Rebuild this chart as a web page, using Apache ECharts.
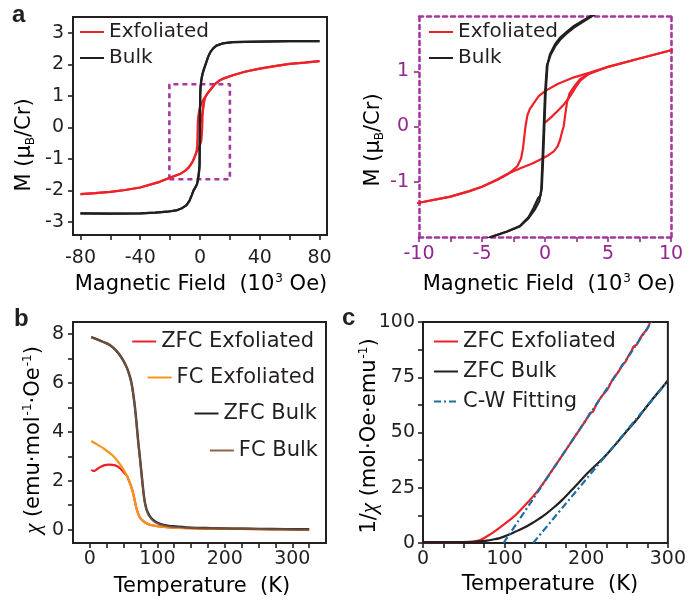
<!DOCTYPE html>
<html>
<head>
<meta charset="utf-8">
<script src="https://cdn.jsdelivr.net/npm/echarts@6/dist/echarts.min.js"></script>
<style>
  html, body { margin: 0; padding: 0; background: #fff; }
  #chart { width: 689px; height: 600px; }
</style>
</head>
<body>
<div id="chart"></div>
<script>
// ---------- (a) M–H loops, field in 10^3 Oe, M in μB/Cr ----------
const exfoliatedDown = [[80,2.11],[70,2.06],[60,2.02],[50,1.95],[40,1.87],[30,1.77],[22,1.66],[16,1.56],[13,1.49],[10,1.38],[7.5,1.23],[5,1.08],[3.5,0.97],[2.3,0.89],[1,0.77],[0,0.64],[-0.5,0.55],[-0.9,0.42],[-1.2,0.32],[-1.4,0.2],[-1.55,0.0],[-1.65,-0.2],[-1.75,-0.4],[-1.9,-0.58],[-2.2,-0.72],[-2.6,-0.8],[-3.0,-0.87],[-3.8,-0.97],[-5,-1.09],[-6,-1.17],[-7.5,-1.27],[-10,-1.38],[-13,-1.47],[-18,-1.56],[-27,-1.73],[-40,-1.91],[-50,-1.99],[-60,-2.05],[-70,-2.09],[-80,-2.12]];
const exfoliatedUp = [[-80,-2.12],[-70,-2.09],[-60,-2.05],[-50,-1.99],[-40,-1.91],[-27,-1.73],[-18,-1.56],[-13,-1.47],[-10,-1.38],[-7.5,-1.27],[-6,-1.17],[-5,-1.09],[-3.8,-0.96],[-3,-0.86],[-2,-0.76],[-1,-0.67],[-0.4,-0.6],[0.2,-0.53],[0.7,-0.45],[1.0,-0.36],[1.2,-0.24],[1.35,-0.1],[1.48,0.0],[1.6,0.2],[1.74,0.43],[1.95,0.6],[2.27,0.71],[2.8,0.86],[3.5,0.95],[5,1.08],[7.5,1.23],[10,1.38],[13,1.49],[16,1.56],[22,1.66],[30,1.77],[40,1.87],[50,1.95],[60,2.02],[70,2.06],[80,2.11]];
const exfoliatedVirgin = [[0,0.07],[0.5,0.17],[1,0.28],[1.5,0.4],[2,0.55],[2.4,0.7],[2.8,0.83],[3.3,0.92]];
const bulkUp = [[-80,-2.73],[-60,-2.74],[-40,-2.73],[-30,-2.71],[-22,-2.68],[-16,-2.64],[-12.5,-2.58],[-9,-2.47],[-7,-2.33],[-5.5,-2.15],[-4.3,-2.0],[-3,-1.9],[-2,-1.81],[-1.3,-1.66],[-0.8,-1.5],[-0.45,-1.35],[-0.3,-1.15],[-0.2,-0.6],[-0.1,0.0],[0.0,0.6],[0.15,1.1],[0.45,1.3],[0.8,1.45],[1.2,1.57],[1.7,1.68],[2.3,1.79],[3.2,1.92],[4.1,2.05],[5.5,2.25],[7,2.4],[9,2.52],[11,2.6],[15,2.67],[22,2.71],[30,2.72],[40,2.73],[60,2.74],[80,2.74]];
const bulkDown = [[80,2.74],[60,2.74],[40,2.73],[30,2.72],[22,2.71],[15,2.67],[11,2.6],[9,2.52],[7,2.4],[5.5,2.25],[4.1,2.06],[3.2,1.94],[2.3,1.82],[1.7,1.71],[1.2,1.61],[0.8,1.49],[0.4,1.31],[0.2,1.12],[0.05,0.6],[-0.05,0.0],[-0.15,-0.6],[-0.25,-1.1],[-0.35,-1.25],[-0.55,-1.3],[-0.9,-1.47],[-1.3,-1.64],[-2,-1.8],[-3,-1.9],[-4.3,-2.0],[-5.5,-2.15],[-7,-2.33],[-9,-2.47],[-12.5,-2.58],[-16,-2.64],[-22,-2.68],[-30,-2.71],[-40,-2.73],[-60,-2.74],[-80,-2.73]];
// enlarged region shown on the right-hand panel
const zoomRegion = [[-20.5,-1.65],[20,-1.65],[20,1.37],[-20.5,1.37],[-20.5,-1.65]];

const fieldTicks = [-80,-60,-40,-20,0,20,40,60,80];
const fieldLabels = [-80,-40,0,40,80];
const momentTicks = [-3,-2,-1,0,1,2,3];
const zoomFieldTicks = [-10,-7.5,-5,-2.5,0,2.5,5,7.5,10];
const zoomFieldLabels = [-10,-5,0,5,10];
const zoomMomentTicks = [-1,0,1];

// ---------- (b) χ(T), emu·mol^-1·Oe^-1 ----------
const zfcExfoliated = [[2,2.45],[5,2.4],[8,2.42],[12,2.5],[17,2.58],[22,2.64],[28,2.66],[34,2.65],[40,2.6],[45,2.5],[50,2.35],[55,2.2],[58,2.0],[61,1.78],[64,1.5],[66,1.25],[68,1.0],[70,0.78],[73,0.56],[77,0.4],[82,0.29],[89,0.2],[100,0.14],[114,0.1],[130,0.07],[163,0.04],[200,0.03],[250,0.02],[300,0.01],[325,0.01]];
const fcExfoliated = [[2,3.63],[10,3.5],[20,3.33],[30,3.12],[35,3.0],[40,2.84],[45,2.66],[50,2.45],[55,2.2],[58,2.0],[61,1.78],[64,1.5],[66,1.25],[68,1.0],[70,0.78],[73,0.56],[77,0.4],[82,0.29],[89,0.2],[100,0.14],[114,0.1],[130,0.07],[163,0.04],[200,0.03],[250,0.02],[300,0.01],[325,0.01]];
const zfcBulk = [[2,7.88],[10,7.8],[20,7.68],[30,7.55],[40,7.3],[45,7.12],[50,6.9],[55,6.62],[60,6.2],[63,5.8],[66,5.2],[68,4.7],[70,4.1],[72,3.5],[74,3.0],[76,2.45],[78,1.9],[80,1.4],[82,1.05],[85,0.75],[89,0.54],[95,0.36],[104,0.23],[115,0.16],[130,0.12],[150,0.08],[180,0.06],[212,0.04],[250,0.03],[290,0.02],[325,0.01]];
const fcBulk = [[2,7.86],[10,7.8],[20,7.68],[30,7.55],[40,7.3],[45,7.12],[50,6.9],[55,6.6],[60,6.18],[63,5.78],[66,5.18],[68,4.68],[70,4.08],[72,3.48],[74,2.98],[76,2.42],[78,1.88],[80,1.38],[82,1.02],[85,0.72],[89,0.5],[95,0.33],[104,0.21],[115,0.14],[130,0.1],[150,0.07],[180,0.05],[212,0.03],[250,0.02],[290,0.01],[325,0.0]];

const tempTicksB = [0,25,50,75,100,125,150,175,200,225,250,275,300,325];
const tempLabels = [0,100,200,300];
const chiTicks = [0,1,2,3,4,5,6,7,8];
const chiLabels = [0,2,4,6,8];

// ---------- (c) 1/χ(T), mol·Oe·emu^-1 ----------
const invZfcExfoliated = [[0,0.4],[10,0.4],[20,0.4],[30,0.4],[40,0.4],[50,0.45],[60,0.6],[65,0.9],[70,1.4],[75,2.3],[80,3.4],[86,4.8],[92,6.4],[100,8.6],[108,10.9],[116,13.6],[125,17.1],[133,20.3],[141,23.8],[150,28.4],[160,33.9],[170,39.3],[180,44.8],[190,50.3],[200,55.8],[205,58.9],[208,59.3],[212,62.4],[220,66.9],[226,69.5],[232,73.8],[240,77.8],[244,80.5],[248,82.0],[252,84.9],[256,87.3],[258,88.9],[262,89.8],[266,92.6],[270,94.8],[274,96.4],[278,99.5]];
const invZfcBulk = [[0,0.4],[20,0.4],[40,0.4],[60,0.45],[70,0.7],[78,1.1],[86,1.6],[93,2.1],[100,3.0],[108,4.2],[116,5.6],[125,7.1],[133,8.8],[141,10.7],[150,13.0],[161,16.3],[170,19.3],[181,23.5],[190,27.0],[200,31.0],[210,34.6],[220,38.1],[230,42.1],[240,46.4],[250,50.8],[262,55.9],[270,59.8],[280,64.5],[290,69.0],[300,73.5]];
const cwFitExfoliated = [[98.7,0],[280,100]];
const cwFitBulk = [[134.9,0],[300,73.3]];

const tempTicksC = [0,25,50,75,100,125,150,175,200,225,250,275,300];
const invChiTicks = [0,12.5,25,37.5,50,62.5,75,87.5,100];
const invChiLabels = [0,25,50,75,100];

// ---------- styling ----------
const FONT = 'DejaVu Sans';
const INK = '#231f20';
const RED = '#ec2228';
const ORANGE = '#f7941d';
const BROWN = '#8d6548';
const PURPLE = '#92278f';
const PURPLE_DOT = '#a5379f';
const BLUE = '#1c6f9e';

function axisFor(grid, min, max, ticks, labels, color, margin) {
  return {
    type: 'value', gridIndex: grid, min, max,
    axisLine: { show: false, onZero: false },
    axisTick: { show: true, inside: false, length: 5, customValues: ticks, lineStyle: { color, width: 1.6 } },
    axisLabel: { show: true, customValues: labels, margin, color, fontFamily: FONT, fontSize: 19 },
    splitLine: { show: false }
  };
}
const dotted = { show: true, onZero: false, lineStyle: { color: PURPLE_DOT, width: 2.6, type: [4, 4] } };
function frameAxis(grid, position, min, max) {
  return { type: 'value', gridIndex: grid, position, min, max, axisLine: dotted,
    axisTick: { show: false }, axisLabel: { show: false }, splitLine: { show: false } };
}

const xAxes = [
  axisFor(0, -85, 85, fieldTicks, fieldLabels, INK, 14),
  Object.assign(axisFor(1, -10, 10, zoomFieldTicks, zoomFieldLabels, PURPLE, 8), { axisLine: dotted }),
  frameAxis(1, 'top', -10, 10),
  axisFor(2, -25, 350, tempTicksB, tempLabels, INK, 7),
  axisFor(3, 0, 300, tempTicksC, tempLabels, INK, 7)
];
const yAxes = [
  axisFor(0, -3.42, 3.51, momentTicks, momentTicks, INK, 9),
  Object.assign(axisFor(1, -2, 2, zoomMomentTicks, zoomMomentTicks, PURPLE, 10), { axisLine: dotted }),
  frameAxis(1, 'right', -2, 2),
  axisFor(2, -0.55, 8.5, chiTicks, chiLabels, INK, 9),
  axisFor(3, 0, 100, invChiTicks, invChiLabels, INK, 8)
];

const frame = { show: true, borderColor: INK, borderWidth: 2, backgroundColor: 'transparent' };
const grids = [
  Object.assign({ left: 73, top: 17, width: 254, height: 218 }, frame),
  { left: 419, top: 16, width: 252, height: 221 },
  Object.assign({ left: 73, top: 322, width: 253, height: 221 }, frame),
  Object.assign({ left: 423, top: 322, width: 249, height: 221 }, frame)
];

function line(name, data, xi, yi, color, width, extra) {
  return Object.assign({
    type: 'line', name, data, xAxisIndex: xi, yAxisIndex: yi,
    symbol: 'none', showSymbol: false, smooth: false, clip: true,
    lineStyle: { color, width }, itemStyle: { color },
    emphasis: { disabled: true }
  }, extra || {});
}

const series = [];
// (a) full field range, then the enlarged low-field panel
[[0, 0], [1, 1]].forEach(([xi, yi]) => {
  series.push(line('Exfoliated', exfoliatedDown, xi, yi, RED, 2.2));
  series.push(line('Exfoliated', exfoliatedUp, xi, yi, RED, 2.2));
  series.push(line('Exfoliated', exfoliatedVirgin, xi, yi, RED, 2.2));
  series.push(line('Bulk', bulkDown, xi, yi, INK, 2.2));
  series.push(line('Bulk', bulkUp, xi, yi, INK, 2.2));
});
series.push(line('region', zoomRegion, 0, 0, PURPLE_DOT, 2.6, { lineStyle: { color: PURPLE_DOT, width: 2.6, type: [5, 4] }, silent: true, z: 1 }));
// (b)
series.push(line('ZFC Exfoliated', zfcExfoliated, 3, 3, RED, 2.2, { smooth: 0.25 }));
series.push(line('FC Exfoliated', fcExfoliated, 3, 3, ORANGE, 2.2, { smooth: 0.25 }));
series.push(line('ZFC Bulk', zfcBulk, 3, 3, INK, 2.4, { smooth: 0.25 }));
series.push(line('FC Bulk', fcBulk, 3, 3, BROWN, 2.0, { smooth: 0.25, lineStyle: { color: BROWN, width: 2.0, opacity: 0.7 } }));
// (c)
series.push(line('ZFC Exfoliated', invZfcExfoliated, 4, 4, RED, 2.2, { smooth: 0.2 }));
series.push(line('ZFC Bulk', invZfcBulk, 4, 4, INK, 2.2, { smooth: 0.25 }));
const dashDot = { color: BLUE, width: 2.2, type: [7, 3, 2, 3] };
series.push(line('C-W Fitting', cwFitExfoliated, 4, 4, BLUE, 2.2, { lineStyle: dashDot, z: 3 }));
series.push(line('C-W Fitting', cwFitBulk, 4, 4, BLUE, 2.2, { lineStyle: dashDot, z: 3 }));

function legend(names, pos, size, gap) {
  return Object.assign({
    orient: 'vertical', data: names, padding: 0, itemGap: gap,
    itemWidth: 24, itemHeight: 14,
    itemStyle: { opacity: 0, borderWidth: 0 },
    textStyle: { fontFamily: FONT, fontSize: size, color: INK },
    selectedMode: false
  }, pos);
}
const legends = [
  legend(['Exfoliated', 'Bulk'], { left: 79, top: 22 }, 20, 6),
  legend(['Exfoliated', 'Bulk'], { left: 428, top: 22 }, 20, 6),
  legend(['ZFC Exfoliated'], { right: 375, top: 331 }, 21, 0),
  legend(['FC Exfoliated'], { right: 374, top: 367 }, 21, 0),
  legend(['ZFC Bulk'], { right: 372, top: 403 }, 21, 0),
  legend([{ name: 'FC Bulk', lineStyle: { opacity: 1 } }], { right: 371, top: 440 }, 21, 0),
  legend(['ZFC Exfoliated', 'ZFC Bulk', 'C-W Fitting'], { left: 433, top: 331 }, 21, 9)
];

// axis titles and panel letters
const rich = (color) => ({
  n: { fontFamily: FONT, fontSize: 21, color, lineHeight: 24 },
  sup: { fontFamily: FONT, fontSize: 12, color, verticalAlign: 'top', lineHeight: 14, padding: [0, 0, 0, 1] },
  sub: { fontFamily: FONT, fontSize: 12, color, verticalAlign: 'bottom', lineHeight: 14 },
  g: { fontFamily: 'Liberation Serif', fontSize: 23, color, fontStyle: 'italic', lineHeight: 24 }
});
function title(text, x, y, rot, color) {
  return {
    type: 'text', x, y, rotation: rot, silent: true,
    style: { text, x: 0, y: 0, align: 'center', verticalAlign: 'middle', rich: rich(color) }
  };
}
function letter(text, x, y) {
  return { type: 'text', x, y, silent: true,
    style: { text, fontFamily: 'Liberation Sans', fontWeight: 'bold', fontSize: 24, fill: INK, align: 'left', verticalAlign: 'middle' } };
}
const graphics = [
  letter('a', 12, 15), letter('b', 14, 319), letter('c', 342, 318),
  title('{n|Magnetic Field  (10}{sup|3}{n| Oe)}', 201, 285, 0, INK),
  title('{n|Magnetic Field  (10}{sup|3}{n| Oe)}', 549, 285, 0, PURPLE),
  title('{n|M (μ}{sub|B}{n|/Cr)}', 25, 145, Math.PI / 2, INK),
  title('{n|M (μ}{sub|B}{n|/Cr)}', 374, 140, Math.PI / 2, PURPLE),
  title('{n|Temperature  (K)}', 202, 587, 0, INK),
  title('{n|Temperature  (K)}', 550, 585, 0, INK),
  title('{g|χ}{n| (emu·mol}{sup|-1}{n|·Oe}{sup|-1}{n|)}', 34, 440, Math.PI / 2, INK),
  title('{n|1/}{g|χ}{n| (mol·Oe·emu}{sup|-1}{n|)}', 370, 436, Math.PI / 2, INK)
];

const chart = echarts.init(document.getElementById('chart'), null, { renderer: 'canvas' });
chart.setOption({
  animation: false,
  backgroundColor: '#fff',
  textStyle: { fontFamily: FONT },
  grid: grids,
  xAxis: xAxes,
  yAxis: yAxes,
  legend: legends,
  series,
  graphic: graphics
});
</script>
</body>
</html>
